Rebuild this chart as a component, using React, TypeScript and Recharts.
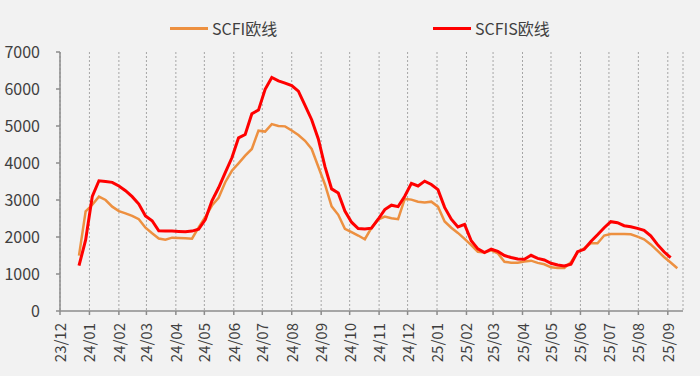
import React from 'react';
import { LineChart, Line, XAxis, YAxis, CartesianGrid } from 'recharts';

// Month tick labels (start of each month)
const monthLabels = [
  '23/12', '24/01', '24/02', '24/03', '24/04', '24/05', '24/06', '24/07', '24/08', '24/09', '24/10',
  '24/11', '24/12', '25/01', '25/02', '25/03', '25/04', '25/05', '25/06', '25/07', '25/08', '25/09',
];

// Weekly series, first observation date
const firstWeek = '2023-12-21';

// SCFI Europe (USD/TEU), weekly
const scfiEurope = [
  1497, 2694, 2871, 3090, 3000, 2820, 2700, 2640, 2570, 2480,
  2252, 2100, 1960, 1925, 1982, 1975, 1964, 1955, 2260, 2540,
  2850, 3060, 3480, 3790, 3991, 4200, 4380, 4874, 4850, 5050,
  5000, 4990, 4880, 4757, 4600, 4380, 3900, 3420, 2830, 2600,
  2220, 2130, 2040, 1940, 2250, 2470, 2550, 2505, 2480, 3030,
  3010, 2955, 2930, 2955, 2820, 2420, 2250, 2110, 1950, 1780,
  1600, 1580, 1640, 1560, 1330, 1306, 1306, 1335, 1360, 1300,
  1262, 1180, 1162, 1162, 1320, 1590, 1694, 1829, 1829, 2040,
  2081, 2081, 2081, 2072, 2009, 1937, 1800, 1630, 1460, 1310,
  1154,
];

// SCFIS Europe, weekly
const scfisEurope = [
  1224, 1919, 3100, 3520, 3500, 3477, 3378, 3252, 3090, 2890,
  2570, 2440, 2170, 2162, 2162, 2150, 2140, 2160, 2210, 2470,
  2980, 3330, 3740, 4140, 4680, 4770, 5330, 5430, 5990, 6310,
  6220, 6160, 6090, 5940, 5560, 5170, 4650, 3900, 3300, 3190,
  2700, 2400, 2230, 2216, 2240, 2480, 2740, 2860, 2820, 3100,
  3450, 3380, 3510, 3420, 3280, 2800, 2480, 2270, 2340, 1900,
  1680, 1580, 1670, 1610, 1500, 1445, 1405, 1396, 1505, 1423,
  1378, 1290, 1243, 1216, 1262, 1603, 1667, 1880, 2060, 2250,
  2414, 2387, 2306, 2279, 2234, 2180, 2030, 1800, 1600, 1441,
];

const yTicks = [0, 1000, 2000, 3000, 4000, 5000, 6000, 7000];

const seriesNames = ['SCFI欧线', 'SCFIS欧线'];
const seriesColors = ['#ED9040', '#FF0000'];

const DAY = 86400000;
const origin = Date.UTC(2023, 11, 1);
const monthDays = monthLabels.map((l) => {
  const [yy, mm] = l.split('/').map(Number);
  return Math.round((Date.UTC(2000 + yy, mm - 1, 1) - origin) / DAY);
});
const firstDay = Math.round((Date.parse(firstWeek + 'T00:00:00Z') - origin) / DAY);

const data = scfiEurope.map((v, i) => ({
  day: firstDay + 7 * i,
  scfi: v,
  scfis: i < scfisEurope.length ? scfisEurope[i] : null,
}));

const FONT = '"Noto Sans CJK SC", "Noto Sans", sans-serif';
const TEXT = '#404040';
const AXIS = '#8c8c8c';

const XTick = (props: any) => {
  const { x, y, payload } = props;
  const idx = monthDays.indexOf(payload.value);
  const label = idx >= 0 ? monthLabels[idx] : '';
  return (
    <text
      x={x}
      y={y}
      transform={`rotate(-90 ${x} ${y})`}
      textAnchor="end"
      dy="0.4em"
      fontSize={15}
      fill={TEXT}
      fontFamily={FONT}
    >
      {label}
    </text>
  );
};

const LegendItem = ({ left, color, name }: { left: number; color: string; name: string }) => (
  <div style={{ position: 'absolute', left, top: 17, height: 22, display: 'flex', alignItems: 'center' }}>
    <div style={{ width: 38, height: 3, background: color }} />
    <span style={{ marginLeft: 4, fontSize: 16, color: TEXT, fontFamily: FONT, lineHeight: '22px' }}>{name}</span>
  </div>
);

export default function App() {
  return (
    <div style={{ position: 'absolute', left: 0, top: 0, width: 700, height: 376, background: '#f2f2f2', overflow: 'hidden' }}>
      <LegendItem left={170} color={seriesColors[0]} name={seriesNames[0]} />
      <LegendItem left={433} color={seriesColors[1]} name={seriesNames[1]} />
      <div style={{ position: 'absolute', left: 0, top: 0 }}>
        <LineChart width={700} height={376} data={data} margin={{ top: 52, right: 17, bottom: 5, left: 0 }}>
          <CartesianGrid horizontal={false} vertical stroke="#a6a6a6" strokeDasharray="2 2" />
          <XAxis
            dataKey="day"
            type="number"
            domain={[0, 656]}
            ticks={monthDays}
            interval={0}
            height={60}
            tick={<XTick />}
            tickSize={4}
            tickMargin={8}
            axisLine={{ stroke: AXIS, strokeWidth: 1.5 }}
            tickLine={{ stroke: AXIS, strokeWidth: 1.5 }}
          />
          <YAxis
            type="number"
            domain={[0, 7000]}
            ticks={yTicks}
            width={60}
            tickSize={4}
            tickMargin={16}
            axisLine={{ stroke: AXIS, strokeWidth: 1.5 }}
            tickLine={{ stroke: AXIS, strokeWidth: 1.5 }}
            tick={{ fontSize: 16, fill: TEXT, fontFamily: FONT }}
          />
          <Line
            type="linear"
            dataKey="scfi"
            name={seriesNames[0]}
            stroke={seriesColors[0]}
            strokeWidth={2.5}
            dot={false}
            isAnimationActive={false}
          />
          <Line
            type="linear"
            dataKey="scfis"
            name={seriesNames[1]}
            stroke={seriesColors[1]}
            strokeWidth={3}
            dot={false}
            isAnimationActive={false}
          />
        </LineChart>
      </div>
    </div>
  );
}
